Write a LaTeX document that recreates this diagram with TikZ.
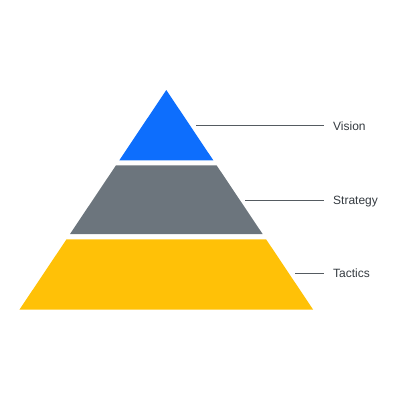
\documentclass[tikz,border=0pt]{standalone}
\usepackage{fontspec}
\setmainfont{Liberation Sans}
\definecolor{topblue}{HTML}{0D6EFD}
\definecolor{midgray}{HTML}{6C757D}
\definecolor{lowyellow}{HTML}{FFC107}
\definecolor{labeltext}{HTML}{343A40}
\definecolor{leadgray}{HTML}{555B61}
\begin{document}
\begin{tikzpicture}[x=1pt,y=-1pt,
  lbl/.style={anchor=west,text=labeltext,font=\fontsize{12}{14}\selectfont,
    inner xsep=9pt,inner ysep=0pt,text height=8.6pt,text depth=0pt},
  leader/.style={draw=leadgray,line width=1pt}]
\useasboundingbox (0,0) rectangle (400,400);

\fill[topblue] (166.3,90) -- (213.3,160.3) -- (119.3,160.3) -- cycle;
\fill[midgray] (116,165.3) -- (216.6,165.3) -- (262.6,234) -- (70,234) -- cycle;
\fill[lowyellow] (66.5,239.3) -- (266.1,239.3) -- (313.2,309.7) -- (19.4,309.7) -- cycle;

\node[lbl](1) at (324,125.7){Vision};
\node[lbl](2) at (324,200){Strategy};
\node[lbl](3) at (324,273.5){Tactics};

\coordinate (v) at (196,125.7);
\coordinate (s) at (245.3,200);
\coordinate (t) at (295,273.5);

\path[leader] (v) -- (1.west);
\path[leader] (s) -- (2.west);
\path[leader] (t) -- (3.west);
\end{tikzpicture}
\end{document}
